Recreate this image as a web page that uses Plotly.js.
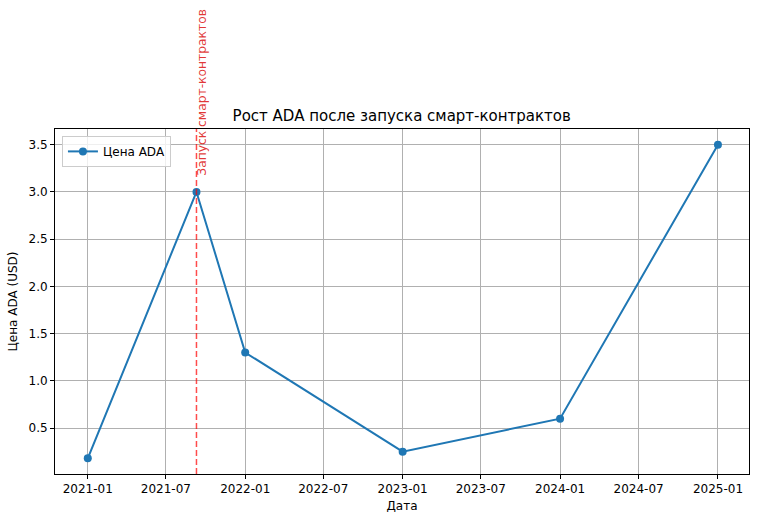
<!DOCTYPE html>
<html>
<head>
<meta charset="utf-8">
<script src="https://cdn.plot.ly/plotly-3.0.1.min.js"></script>
<style>body{margin:0;background:#fff}#chart{width:758px;height:521px}</style>
</head>
<body>
<div id="chart"></div>
<script>
const dates = ["2021-01-01", "2021-09-10", "2022-01-01", "2023-01-01", "2024-01-01", "2025-01-01"];
const prices = [0.18, 3.0, 1.3, 0.25, 0.6, 3.5];
const launchDate = "2021-09-10";
const launchLabel = "Запуск смарт-контрактов";

const trace = {
    x: dates,
    y: prices,
    type: 'scatter',
    mode: 'lines+markers',
    name: 'Цена ADA',
    line: { color: '#1f77b4', width: 2 },
    marker: { color: '#1f77b4', size: 8 }
};

const font = { family: 'DejaVu Sans, sans-serif', size: 12, color: '#000' };

const layout = {
    width: 758,
    height: 521,
    margin: { l: 55, r: 9, t: 129, b: 47 },
    paper_bgcolor: '#fff',
    plot_bgcolor: '#fff',
    font: font,
    showlegend: true,
    title: {
        text: 'Рост ADA после запуска смарт-контрактов',
        font: { family: 'DejaVu Sans, sans-serif', size: 15, color: '#000' },
        x: 0.53, xanchor: 'center', y: 1 - 116 / 521, yanchor: 'middle'
    },
    xaxis: {
        type: 'date',
        range: ['2020-10-17', '2025-03-14'],
        tickvals: ["2021-01-01", "2021-07-01", "2022-01-01", "2022-07-01", "2023-01-01", "2023-07-01", "2024-01-01", "2024-07-01", "2025-01-01"],
        ticktext: ["2021-01", "2021-07", "2022-01", "2022-07", "2023-01", "2023-07", "2024-01", "2024-07", "2025-01"],
        showgrid: true, gridcolor: '#b0b0b0', gridwidth: 1,
        showline: true, linecolor: '#000', linewidth: 1, mirror: true,
        ticks: 'outside', ticklen: 4, tickcolor: '#000',
        zeroline: false,
        title: { text: 'Дата', font: font, standoff: 6 }
    },
    yaxis: {
        range: [0.014, 3.666],
        tickvals: [0.5, 1.0, 1.5, 2.0, 2.5, 3.0, 3.5],
        ticktext: ['0.5', '1.0', '1.5', '2.0', '2.5', '3.0', '3.5'],
        showgrid: true, gridcolor: '#b0b0b0', gridwidth: 1,
        showline: true, linecolor: '#000', linewidth: 1, mirror: true,
        ticks: 'outside', ticklen: 4, tickcolor: '#000',
        zeroline: false,
        title: { text: 'Цена ADA (USD)', font: font, standoff: 8 }
    },
    legend: {
        x: 0.01, y: 0.98, xanchor: 'left', yanchor: 'top',
        bgcolor: 'rgba(255,255,255,0.8)', bordercolor: '#ccc', borderwidth: 1,
        font: font
    },
    shapes: [{
        type: 'line', xref: 'x', yref: 'paper',
        x0: launchDate, x1: launchDate, y0: 0, y1: 1,
        line: { color: 'rgba(255,0,0,0.7)', width: 1.5, dash: '6px,3px' }
    }],
    annotations: [{
        x: launchDate, y: 3.15, xref: 'x', yref: 'y',
        text: launchLabel, textangle: -90, showarrow: false,
        xanchor: 'left', yanchor: 'bottom', xshift: -3,
        font: { family: 'DejaVu Sans, sans-serif', size: 12.3, color: 'rgba(220,20,20,0.85)' }
    }]
};

Plotly.newPlot('chart', [trace], layout, { displayModeBar: false });
</script>
</body>
</html>
